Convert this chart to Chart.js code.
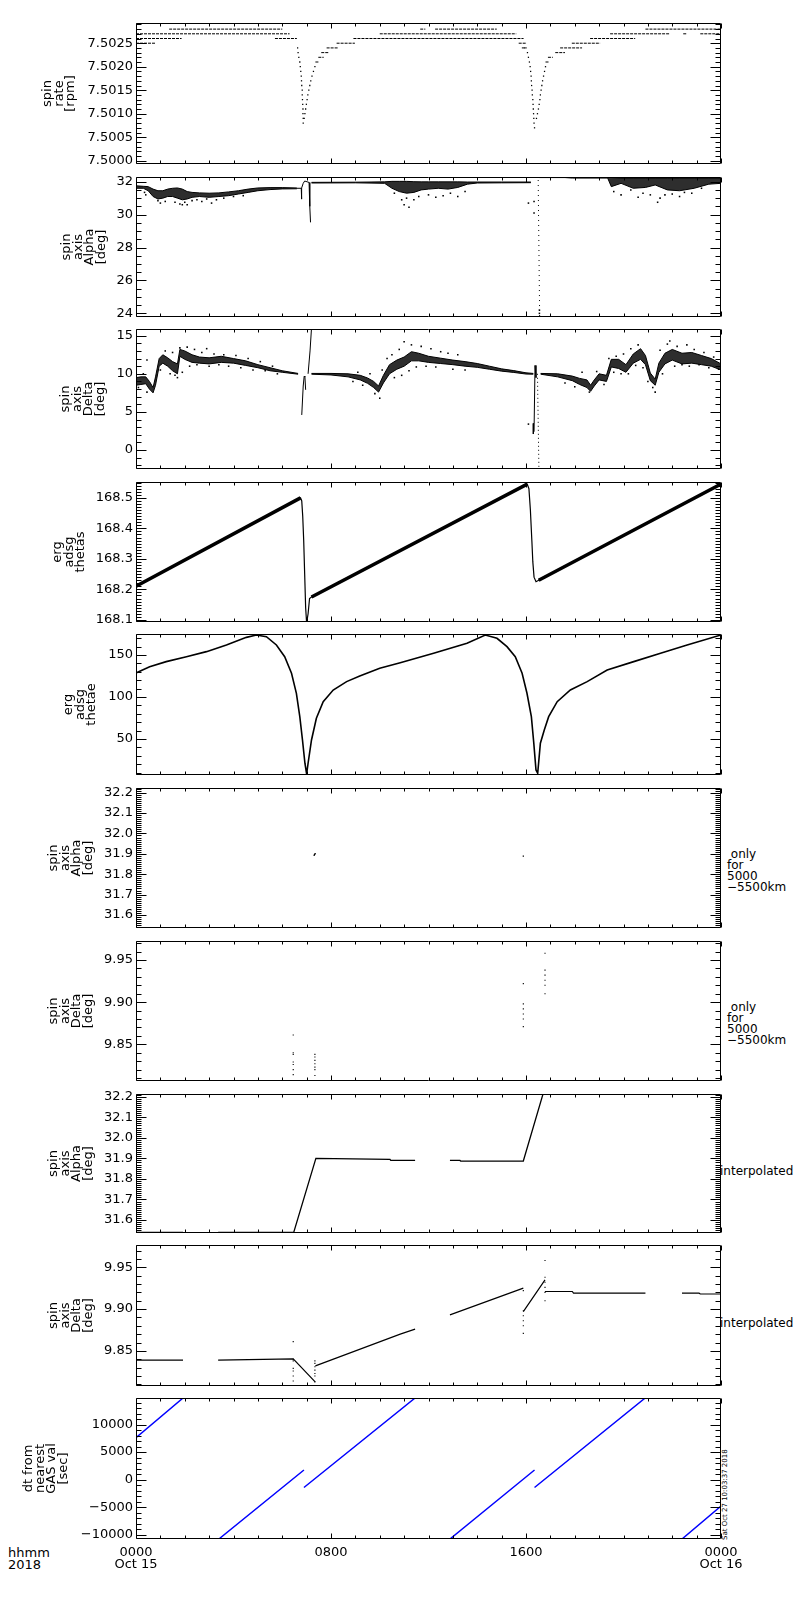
<!DOCTYPE html>
<html>
<head>
<meta charset="utf-8">
<title>ERG spin axis</title>
<script src="https://cdn.jsdelivr.net/npm/chart.js@4.4.1/dist/chart.umd.min.js"></script>
<style>
  html, body { margin: 0; padding: 0; background: #fff; }
  #page { position: relative; width: 800px; height: 1600px; overflow: hidden; background: #fff;
          font-family: "DejaVu Sans", sans-serif; color: #000; }
  #page canvas { position: absolute; left: 0; }
  .note { position: absolute; font-size: 12px; line-height: 11px; white-space: pre; }
  .stamp { position: absolute; font-size: 7px; line-height: 7px; white-space: pre;
           transform-origin: 0 0; transform: rotate(-90deg); }
</style>
</head>
<body>
<div id="page">
  <div class="note" style="left:727px;top:849px"> only
for
5000
−5500km</div>
  <div class="note" style="left:727px;top:1002px"> only
for
5000
−5500km</div>
  <div class="note" style="left:720px;top:1166px">interpolated</div>
  <div class="note" style="left:720px;top:1318px">interpolated</div>
  <div class="note" style="left:8px;top:1547px;font-size:13px;line-height:12px">hhmm
2018</div>
  <div class="stamp" style="left:722px;top:1540px">Sat Oct 27 10:03:37 2018</div>
</div>
<script>
/* ── DATA (x = hours of Oct 15, UT) ─────────────────────────── */
const xTickLabels = [['0000', 'Oct 15'], '0800', '1600', ['0000', 'Oct 16']];

// spin rate [rpm]: quantised levels (runs) and the two perigee dips
const rateSegT0 = [0, 8.23, 15.70, 17.88, 0, 5.70, 8.92, 18.63, 0, 10.00, 19.45, 22.45, 23.15, 1.36, 11.66, 12.27, 20.90, 7.82, 15.83, 17.40, 7.60, 17.20, 7.48, 16.90, 7.36, 16.80];
const rateSegT1 = [0.82, 8.98, 16.03, 19.04, 1.87, 6.60, 15.90, 20.48, 6.30, 15.60, 21.90, 22.60, 24.00, 6.00, 11.87, 14.80, 24.00, 8.30, 16.03, 18.30, 7.90, 17.60, 7.70, 17.10, 7.50, 16.95];
const rateSegV  = [7.5025, 7.5025, 7.5025, 7.5025, 7.5026, 7.5026, 7.5026, 7.5026, 7.5027, 7.5027, 7.5027, 7.5027, 7.5027, 7.5028, 7.5028, 7.5028, 7.5028, 7.5024, 7.5024, 7.5024, 7.5023, 7.5023, 7.5022, 7.5022, 7.5021, 7.5021];
const rateDipT = [6.63, 6.65, 6.68, 6.72, 6.74, 6.76, 6.78, 6.79, 6.80, 6.82, 6.82, 6.83, 6.84, 6.85, 6.85, 6.86, 6.86,
                  6.90, 6.93, 6.96, 6.99, 7.02, 7.05, 7.09, 7.13, 7.17, 7.22, 7.28, 7.34,
                  15.96, 16.06, 16.10, 16.14, 16.17, 16.19, 16.21, 16.22, 16.23, 16.25, 16.26, 16.28, 16.29, 16.30, 16.31, 16.32, 16.33, 16.35,
                  16.43, 16.47, 16.51, 16.54, 16.57, 16.59, 16.62, 16.65, 16.68, 16.72, 16.76, 16.80];
const rateDipV = [7.5024, 7.5023, 7.5022, 7.5021, 7.5020, 7.5019, 7.5018, 7.5017, 7.5016, 7.5015, 7.5014, 7.5013, 7.5012, 7.5011, 7.5010, 7.5009, 7.5008,
                  7.5009, 7.5010, 7.5011, 7.5012, 7.5013, 7.5014, 7.5015, 7.5016, 7.5017, 7.5018, 7.5019, 7.5020,
                  7.5024, 7.5023, 7.5022, 7.5021, 7.5020, 7.5019, 7.5018, 7.5017, 7.5016, 7.5015, 7.5014, 7.5013, 7.5012, 7.5011, 7.5010, 7.5009, 7.5008, 7.5007,
                  7.5009, 7.5010, 7.5011, 7.5012, 7.5013, 7.5014, 7.5015, 7.5016, 7.5017, 7.5018, 7.5019, 7.5020];

// spin axis Alpha [deg]: noisy band (lo/hi), jumps, outliers
const alphaBandT  = [[0, 0.3, 0.5, 0.7, 0.9, 1.1, 1.3, 1.5, 1.7, 1.9, 2.1, 2.3, 2.6, 3.0, 3.4, 3.8, 4.2, 4.6, 5.0, 5.5, 6.0, 6.6],
                     [7.2, 9.0, 10.2, 10.5, 10.8, 11.1, 11.4, 11.7, 12.0, 12.4, 12.8, 13.2, 13.6, 14.0, 15.0, 16.2],
                     [16.55, 17.6, 17.9, 19.35, 19.5, 19.9, 20.4, 20.9, 21.3, 21.8, 22.3, 22.9, 23.5, 24]];
const alphaBandHi = [[31.75, 31.72, 31.70, 31.55, 31.45, 31.45, 31.55, 31.60, 31.62, 31.55, 31.40, 31.35, 31.32, 31.30, 31.32, 31.38, 31.45, 31.55, 31.62, 31.64, 31.64, 31.62],
                     [31.96, 31.97, 31.99, 32.02, 32.02, 32.02, 32.00, 31.99, 31.99, 31.99, 31.99, 31.99, 31.98, 31.98, 31.98, 31.98],
                     [32.30, 32.30, 32.26, 32.26, 32.25, 32.22, 32.22, 32.22, 32.22, 32.22, 32.22, 32.22, 32.22, 32.22]];
const alphaBandLo = [[31.60, 31.60, 31.45, 31.10, 30.95, 31.00, 31.10, 31.10, 31.00, 30.90, 30.95, 31.05, 31.10, 31.05, 31.10, 31.15, 31.25, 31.35, 31.45, 31.52, 31.56, 31.57],
                     [31.92, 31.93, 31.90, 31.60, 31.40, 31.30, 31.35, 31.50, 31.55, 31.60, 31.55, 31.65, 31.85, 31.92, 31.93, 31.94],
                     [32.25, 32.25, 32.22, 32.22, 31.70, 31.90, 31.60, 31.65, 31.80, 31.50, 31.45, 31.60, 31.85, 31.90]];
const alphaJumpT = [6.60, 6.78, 6.79, 6.80, 6.86, 6.92, 7.05, 7.10, 7.13, 7.16];
const alphaJumpV = [31.60, 31.60, 30.94, 31.62, 31.90, 32.04, 31.98, 31.95, 30.50, 29.53];
const alphaDropT = [16.50, 16.56];
const alphaDropV = [32.10, 23.78];
const alphaDotT = [0.35, 0.4, 0.9, 1.0, 1.2, 1.6, 1.8, 1.9, 2.0, 2.1, 2.3, 2.5, 2.7, 2.9, 3.1, 3.3, 3.6, 4.0, 4.4,
                   10.6, 10.9, 11.0, 11.1, 11.2, 11.4, 11.6, 12.0, 12.3, 12.6, 12.9, 13.2, 13.5, 16.1, 16.33, 16.33, 16.55, 16.55,
                   19.6, 19.9, 20.3, 20.6, 20.8, 21.1, 21.4, 21.5, 21.7, 22.0, 22.3, 22.5, 22.8, 23.2];
const alphaDotV = [31.35, 31.20, 30.85, 30.70, 30.80, 30.75, 30.65, 30.60, 30.75, 30.60, 30.85, 30.90, 30.80, 30.95, 30.70, 30.90, 31.00, 31.10, 31.15,
                   31.30, 30.90, 30.60, 31.00, 30.45, 30.90, 31.10, 31.20, 31.05, 31.15, 31.30, 31.10, 31.40, 30.70, 30.80, 30.10, 24.20, 24.00,
                   31.40, 31.20, 31.50, 31.05, 31.30, 31.20, 30.75, 31.00, 31.20, 31.25, 31.10, 31.35, 31.30, 31.60];

// spin axis Delta [deg]
const deltaBandT  = [[0, 0.2, 0.4, 0.55, 0.7, 0.8, 0.95, 1.1, 1.3, 1.5, 1.7, 1.8, 2.0, 2.3, 2.6, 3.0, 3.5, 4.0, 4.5, 5.0, 5.5, 6.0, 6.65],
                     [7.2, 8.0, 8.7, 9.2, 9.5, 9.75, 9.95, 10.15, 10.4, 10.7, 11.0, 11.3, 11.6, 12.0, 12.5, 13.0, 13.5, 14.0, 14.5, 15.0, 15.5, 16.0, 16.3],
                     [16.6, 17.3, 17.9, 18.2, 18.5, 18.65, 18.8, 19.0, 19.3, 19.5, 19.8, 20.1, 20.4, 20.7, 20.9, 21.1, 21.3, 21.45, 21.7, 22.0, 22.4, 22.8, 23.2, 23.6, 24.0]];
const deltaBandHi = [[9.5, 9.6, 9.6, 9.0, 8.2, 9.6, 12.0, 12.5, 12.1, 11.6, 11.3, 13.2, 13.0, 12.5, 12.2, 12.1, 12.3, 12.0, 11.7, 11.2, 10.8, 10.4, 10.05],
                     [10.05, 10.05, 10.0, 9.8, 9.45, 9.0, 8.4, 9.8, 11.2, 11.8, 12.2, 12.9, 12.7, 12.3, 12.05, 11.8, 11.6, 11.35, 11.0, 10.65, 10.42, 10.13, 10.05],
                     [10.05, 10.0, 9.7, 9.4, 9.2, 8.5, 9.2, 10.0, 9.8, 11.9, 11.9, 11.2, 12.6, 13.3, 12.4, 10.1, 9.3, 11.4, 12.7, 13.2, 12.7, 12.8, 12.4, 12.0, 11.3]];
const deltaBandLo = [[8.5, 8.6, 8.7, 8.0, 7.5, 8.5, 11.0, 11.4, 11.0, 10.4, 10.0, 12.3, 11.9, 11.5, 11.4, 11.3, 11.5, 11.4, 11.1, 10.8, 10.4, 10.2, 9.95],
                     [9.95, 9.85, 9.6, 9.2, 8.75, 8.2, 7.6, 8.8, 10.0, 10.6, 11.0, 11.7, 11.7, 11.5, 11.35, 11.2, 11.0, 10.85, 10.6, 10.35, 10.18, 9.97, 9.95],
                     [9.95, 9.6, 9.1, 8.6, 8.2, 7.7, 8.4, 9.2, 9.0, 10.9, 10.7, 10.2, 11.4, 11.9, 11.2, 9.1, 8.5, 10.2, 11.3, 11.8, 11.3, 11.4, 11.2, 11.0, 10.5]];
const deltaSpikeT = [[6.80, 6.86, 6.90, 6.93, 6.96], [7.06, 7.14, 7.20], [16.33, 16.37, 16.41], [16.30, 16.30]];
const deltaSpikeV = [[4.6, 8.4, 9.7, 9.6, 7.9], [10.0, 13.0, 16.0], [2.4, 11.1, 9.5], [3.5, 2.1]];
const deltaDropT = [16.47, 16.53];
const deltaDropV = [10.0, -2.5];
const deltaDotT = [0.1, 0.3, 0.45, 0.45, 1.0, 1.2, 1.4, 1.5, 1.6, 1.7, 1.8, 1.9, 2.1, 2.2, 2.4, 2.5, 2.7, 2.9, 3.0, 3.2, 3.4, 3.6, 3.8, 4.1, 4.3, 4.6, 4.8, 5.1, 5.3, 5.6, 5.8,
                   8.9, 9.1, 9.3, 9.6, 9.8, 10.0, 10.1, 10.3, 10.5, 10.6, 10.8, 10.9, 11.0, 11.2, 11.3, 11.5, 11.7, 11.9, 12.1, 12.3, 12.5, 12.8, 13.0, 13.2, 13.5, 16.1,
                   17.6, 18.0, 18.3, 18.6, 18.9, 19.2, 19.4, 19.6, 19.7, 19.9, 20.0, 20.2, 20.3, 20.5, 20.6, 20.8, 21.0, 21.2, 21.3, 21.5, 21.6, 21.8, 21.9, 22.1, 22.2, 22.4, 22.6, 22.7, 22.9, 23.1, 23.3, 23.5, 23.7, 23.9];
const deltaDotV = [8.2, 10.0, 7.6, 11.8, 10.5, 13.0, 10.0, 12.8, 9.8, 9.5, 13.4, 10.2, 13.5, 11.0, 13.2, 11.2, 12.8, 13.3, 11.0, 12.6, 11.2, 12.5, 11.0, 12.4, 10.8, 12.0, 10.5, 11.6, 10.4, 11.0, 10.0,
                   9.0, 10.2, 8.5, 10.0, 7.4, 6.8, 10.5, 12.0, 12.5, 9.5, 13.2, 9.8, 14.2, 10.4, 13.8, 10.9, 13.6, 11.0, 13.3, 10.9, 12.9, 12.7, 10.6, 12.5, 10.5, 3.4,
                   8.8, 8.3, 10.2, 7.6, 10.3, 8.6, 12.0, 10.2, 12.3, 10.0, 12.6, 10.0, 13.3, 11.1, 13.8, 10.8, 9.0, 8.2, 7.6, 13.1, 10.0, 13.9, 14.3, 11.0, 13.6, 11.2, 13.8, 11.0, 13.2, 11.2, 12.8, 10.8, 12.2, 10.6];

// erg adsg thetas
const thetasT = [0, 6.75, 6.80, 6.84, 6.88, 6.92, 6.96, 7.00, 7.06, 7.12, 7.20, 16.05, 16.12, 16.18, 16.24, 16.28, 16.33, 16.41, 16.52, 24];
const thetasV = [168.21, 168.50, 168.49, 168.44, 168.36, 168.25, 168.14, 168.09, 168.12, 168.17, 168.175, 168.545, 168.53, 168.46, 168.36, 168.29, 168.24, 168.225, 168.23, 168.545];
const thetasRamps = [[0, 1], [10, 11], [18, 19]];

// erg adsg thetae
const thetaeT = [0.02, 0.56, 1.24, 2.07, 2.89, 3.71, 4.53, 4.94, 5.35, 5.76, 6.10, 6.38, 6.58, 6.72, 6.83, 6.93, 7.00, 7.06, 7.20, 7.40,
                 7.68, 8.09, 8.64, 9.18, 10.0, 10.84, 12.21, 13.58, 14.33, 14.81, 15.22, 15.56, 15.84, 16.04, 16.22, 16.32, 16.41, 16.48, 16.59, 16.75,
                 16.93, 17.28, 17.82, 18.51, 19.33, 20.42, 21.52, 22.61, 24.0];
const thetaeV = [128.9, 136.1, 142.1, 148.0, 154.0, 161.9, 171.0, 173.8, 171.8, 161.9, 148.0, 128.2, 104.4, 76.6, 48.8, 21.1, 8.3, 21.1, 48.8, 74.6,
                 94.4, 108.3, 118.3, 125.0, 134.1, 140.8, 152.0, 163.9, 173.8, 169.9, 159.9, 148.0, 128.2, 104.4, 76.6, 44.9, 13.1, 9.2, 44.9, 60.7,
                 76.6, 94.4, 108.3, 118.3, 132.1, 142.1, 152.0, 161.9, 173.8];

// only for 5000-5500 km
const alphaOnlyT = [7.31, 7.33, 7.35, 15.89];
const alphaOnlyV = [31.893, 31.897, 31.901, 31.889];
const deltaOnlyT = [6.45, 6.45, 6.45, 6.45, 6.45, 6.45, 6.45, 7.34, 7.34, 7.34, 7.34, 7.34, 7.34, 7.34,
                    15.89, 15.89, 15.89, 15.89, 15.89, 15.89, 16.78, 16.78, 16.78, 16.78, 16.78, 16.78];
const deltaOnlyV = [9.861, 9.840, 9.838, 9.829, 9.826, 9.820, 9.814, 9.838, 9.835, 9.831, 9.827, 9.823, 9.820, 9.813,
                    9.922, 9.898, 9.892, 9.886, 9.880, 9.871, 9.958, 9.938, 9.932, 9.926, 9.920, 9.910];

// interpolated
const alphaInterpT = [[0, 1.93], [3.37, 6.47, 7.38, 10.42, 10.45, 11.45], [12.88, 13.29, 13.32, 15.89, 16.74]];
const alphaInterpV = [[31.54, 31.54], [31.54, 31.54, 31.90, 31.895, 31.89, 31.89], [31.89, 31.89, 31.887, 31.887, 32.23]];
const deltaInterpT = [[0, 1.93], [3.37, 6.45, 7.35], [7.36, 10.84, 11.45], [12.88, 15.89], [15.89, 16.78], [16.78, 17.9, 17.95, 20.9], [22.4, 23.1, 23.15, 24]];
const deltaInterpV = [[9.839, 9.839], [9.839, 9.8405, 9.813], [9.832, 9.870, 9.876], [9.893, 9.925], [9.897, 9.935], [9.921, 9.921, 9.919, 9.919], [9.919, 9.919, 9.918, 9.918]];

// dt from nearest GAS val [sec]
const dtT = [[0, 1.93], [3.40, 6.89], [6.89, 11.45], [12.88, 16.35], [16.35, 20.89], [22.40, 24]];
const dtV = [[7600, 14820], [-10780, 1750], [-1430, 14820], [-10780, 1750], [-1430, 14820], [-10780, -4800]];

/* ── HELPERS ───────────────────────────────────────────────── */
function pts(ts, vs) { return ts.map((t, i) => ({ x: t, y: vs[i] })); }
function runs(tRuns, vRuns) {
  const out = [];
  tRuns.forEach((ts, k) => {
    if (k) out.push({ x: ts[0], y: null });
    out.push(...pts(ts, vRuns[k]));
  });
  return out;
}
function segs(t0, t1, v) {
  const out = [];
  t0.forEach((t, i) => {
    if (i) out.push({ x: t, y: null });
    out.push({ x: t, y: v[i] }, { x: t1[i], y: v[i] });
  });
  return out;
}
const line = (data, w = 1, extra = {}) => Object.assign({
  data, borderColor: '#000', borderWidth: w, pointRadius: 0, tension: 0, spanGaps: false, fill: false
}, extra);
const dots = (data, r = 1.1, color = '#000') => ({
  data, showLine: false, pointRadius: r, pointStyle: 'rect', backgroundColor: color, borderWidth: 0
});
function bands(tRuns, loRuns, hiRuns) {
  const out = [];
  tRuns.forEach((ts, k) => {
    out.push(line(pts(ts, loRuns[k]), 1));
    out.push(line(pts(ts, hiRuns[k]), 1, { fill: '-1', backgroundColor: 'rgba(0,0,0,0.82)' }));
  });
  return out;
}
const fixed = d => v => v.toFixed(d);
const signed = v => (v < 0 ? '−' + Math.abs(v) : String(v));

// labelled (major) y ticks: multiples of the major step inside the range
function majorTicks(scale, step) {
  const out = [];
  for (let n = Math.ceil(scale.min / step - 1e-6); n * step <= scale.max + 1e-9; n++) out.push({ value: n * step });
  scale.ticks = out;
}

/* ── FRAME + INWARD TICKS (IDL style) ──────────────────────── */
const frameTicks = {
  id: 'frameTicks',
  afterDraw(chart, args, o) {
    const { ctx, chartArea: a, scales: { x, y } } = chart;
    const L = Math.round(a.left) + 0.5, R = Math.round(a.right) - 0.5;
    const T = Math.round(a.top) + 0.5, B = Math.round(a.bottom) - 0.5;
    ctx.save();
    ctx.strokeStyle = '#000';
    ctx.lineWidth = 1;
    ctx.beginPath();
    ctx.rect(L, T, R - L, B - T);
    // x: every hour, long every 8 h
    for (let hr = 0; hr <= 24; hr++) {
      const px = Math.round(x.getPixelForValue(hr)) + 0.5;
      const len = hr % 8 === 0 ? 5 : 3;
      ctx.moveTo(px, T); ctx.lineTo(px, T + len);
      ctx.moveTo(px, B); ctx.lineTo(px, B - len);
    }
    // y: minor + major
    const ratio = Math.round(o.yMajor / o.yMinor);
    const n0 = Math.ceil(y.min / o.yMinor - 1e-6), n1 = Math.floor(y.max / o.yMinor + 1e-6);
    for (let n = n0; n <= n1; n++) {
      const py = Math.round(y.getPixelForValue(n * o.yMinor)) + 0.5;
      const len = n % ratio === 0 ? 10 : 5;
      ctx.moveTo(L, py); ctx.lineTo(L + len, py);
      ctx.moveTo(R, py); ctx.lineTo(R - len, py);
    }
    ctx.stroke();
    ctx.restore();
  }
};

/* ── PANELS ────────────────────────────────────────────────── */
const panels = [
  { top: 23,   h: 141, min: 7.49993, max: 7.50293, major: 0.0005, minor: 0.0001, fmt: fixed(4),
    title: ['spin', 'rate', '[rpm]'], titleX: 48,
    datasets: [line(segs(rateSegT0, rateSegT1, rateSegV), 1, { borderDash: [3, 1] }), dots(pts(rateDipT, rateDipV), 0.9)] },
  { top: 177,  h: 140, min: 23.78, max: 32.285, major: 2, minor: 0.5, fmt: fixed(0),
    title: ['spin', 'axis', 'Alpha', '[deg]'], titleX: 67,
    datasets: [...bands(alphaBandT, alphaBandLo, alphaBandHi), line(pts(alphaJumpT, alphaJumpV), 1),
               line(pts(alphaDropT, alphaDropV), 1, { borderDash: [1, 4] }), dots(pts(alphaDotT, alphaDotV))] },
  { top: 329,  h: 140, min: -2.49, max: 15.88, major: 5, minor: 1, fmt: fixed(0),
    title: ['spin', 'axis', 'Delta', '[deg]'], titleX: 66,
    datasets: [...bands(deltaBandT, deltaBandLo, deltaBandHi), line(runs(deltaSpikeT, deltaSpikeV), 1),
               line(pts(deltaDropT, deltaDropV), 1, { borderDash: [1, 3] }), dots(pts(deltaDotT, deltaDotV))] },
  { top: 482,  h: 140, min: 168.093, max: 168.552, major: 0.1, minor: 0.01, fmt: fixed(1),
    title: ['erg', 'adsg', 'thetas'], titleX: 58,
    datasets: [line(pts(thetasT, thetasV), 1.2),
               line(runs(thetasRamps.map(r => r.map(i => thetasT[i])), thetasRamps.map(r => r.map(i => thetasV[i]))), 3.5)] },
  { top: 634,  h: 141, min: 7.1, max: 175, major: 50, minor: 10, fmt: fixed(0),
    title: ['erg', 'adsg', 'thetae'], titleX: 69,
    datasets: [line(pts(thetaeT, thetaeV), 1.6)] },
  { top: 788,  h: 140, min: 31.536, max: 32.223, major: 0.1, minor: 0.01, fmt: fixed(1),
    title: ['spin', 'axis', 'Alpha', '[deg]'], titleX: 54,
    datasets: [dots(pts(alphaOnlyT, alphaOnlyV), 0.9)] },
  { top: 941,  h: 140, min: 9.8065, max: 9.9725, major: 0.05, minor: 0.01, fmt: fixed(2),
    title: ['spin', 'axis', 'Delta', '[deg]'], titleX: 54,
    datasets: [dots(pts(deltaOnlyT, deltaOnlyV), 0.8)] },
  { top: 1094, h: 139, min: 31.537, max: 32.213, major: 0.1, minor: 0.01, fmt: fixed(1),
    title: ['spin', 'axis', 'Alpha', '[deg]'], titleX: 54,
    datasets: [line(runs(alphaInterpT, alphaInterpV), 1.3)] },
  { top: 1245, h: 141, min: 9.808, max: 9.9766, major: 0.05, minor: 0.01, fmt: fixed(2),
    title: ['spin', 'axis', 'Delta', '[deg]'], titleX: 54,
    datasets: [line(runs(deltaInterpT, deltaInterpV), 1.2), dots(pts(deltaOnlyT, deltaOnlyV), 0.8)] },
  { top: 1398, h: 141, min: -10780, max: 14820, major: 5000, minor: 1000, fmt: signed,
    title: ['dt from', 'nearest', 'GAS val', '[sec]'], titleX: 29,
    datasets: [line(runs(dtT, dtV), 1.5, { borderColor: '#0000ff' })] }
];

Chart.defaults.font.family = '"DejaVu Sans", sans-serif';
Chart.defaults.color = '#000';

const page = document.getElementById('page');
const PAD = 12, LINE_H = 11.5, X_AXIS_H = 45;

panels.forEach((p, i) => {
  const last = i === panels.length - 1;
  const cv = document.createElement('canvas');
  cv.width = 800;
  cv.height = PAD + p.h + (last ? X_AXIS_H : PAD);
  cv.style.top = (p.top - PAD) + 'px';
  page.appendChild(cv);

  const xScale = {
    type: 'linear', min: 0, max: 24, display: last,
    grid: { display: false, drawTicks: false }, border: { display: false },
    ticks: { stepSize: 8, autoSkip: false, maxRotation: 0, padding: 8,
             font: { size: 13, lineHeight: '12px' }, callback: v => xTickLabels[v / 8] }
  };
  if (last) xScale.afterFit = s => { s.height = X_AXIS_H; };

  new Chart(cv, {
    type: 'line',
    data: { datasets: p.datasets },
    options: {
      responsive: false, animation: false, events: [],
      layout: { padding: { left: 0, right: 79, top: PAD, bottom: last ? 0 : PAD } },
      plugins: {
        legend: { display: false }, tooltip: { enabled: false },
        frameTicks: { yMajor: p.major, yMinor: p.minor }
      },
      scales: {
        x: xScale,
        y: {
          type: 'linear', min: p.min, max: p.max,
          grid: { display: false, drawTicks: false }, border: { display: false },
          ticks: { autoSkip: false, padding: 3, font: { size: 13 }, callback: v => p.fmt(v) },
          afterBuildTicks: s => majorTicks(s, p.major),
          title: { display: true, text: p.title, align: 'center',
                   font: { size: 13, lineHeight: LINE_H + 'px' },
                   padding: { top: p.titleX - LINE_H / 2, bottom: 0 } },
          afterFit: s => { s.width = 136; }
        }
      }
    },
    plugins: [frameTicks]
  });
});
</script>
</body>
</html>
